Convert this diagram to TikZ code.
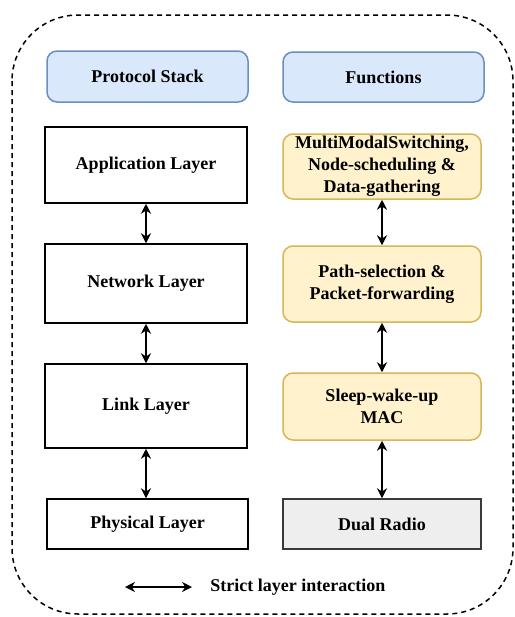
\documentclass[tikz,border=0pt]{standalone}
\usepackage{fontspec}
\setmainfont{Liberation Serif}
\usepackage{tikz}
\usetikzlibrary{arrows.meta}

\definecolor{headfill}{HTML}{DAE8FC}
\definecolor{headdraw}{HTML}{6C8EBF}
\definecolor{funcfill}{HTML}{FFF2CC}
\definecolor{funcdraw}{HTML}{D6B656}
\definecolor{radiofill}{HTML}{EEEEEE}
\definecolor{radiodraw}{HTML}{36393D}

\tikzset{
  box/.style={draw, line width=0.75pt, align=center, inner sep=0pt,
    font=\fontsize{9}{11}\selectfont\bfseries},
  head/.style={box, draw=headdraw, fill=headfill, rounded corners=5pt},
  layer/.style={box, fill=white},
  func/.style={box, draw=funcdraw, fill=funcfill, rounded corners=5pt},
  radio/.style={box, draw=radiodraw, fill=radiofill},
  link/.style={line width=1pt, {Stealth[length=5pt,width=5pt]}-{Stealth[length=5pt,width=5pt]}}
}

\begin{document}
\begin{tikzpicture}[x=0.5pt,y=-0.5pt]
		\useasboundingbox (0,0) rectangle (515,617);
		\draw[line width=0.75pt,dash pattern=on 2.5pt off 2pt,rounded corners=33pt] (12,15) rectangle (513,614);
		% headers
		\node[head, minimum width=100.5pt, minimum height=25.5pt] (stack) at (147.5,76.5) {Protocol Stack};
		\node[head, minimum width=100.5pt, minimum height=25pt] (funcs) at (383.5,77) {Functions};
		% protocol stack
		\node[layer, minimum width=101pt, minimum height=38pt] (app) at (146,165) {Application Layer};
		\node[layer, minimum width=101pt, minimum height=39.5pt] (net) at (146,283.5) {Network Layer};
		\node[layer, minimum width=101pt, minimum height=42pt] (lnk) at (146,406) {Link Layer};
		\node[layer, minimum width=100.5pt, minimum height=25pt] (phy) at (147.5,524) {Physical Layer};
		% functions
		\node[func, minimum width=99pt, minimum height=32.5pt] (mms) at (382,166.5) {MultiModalSwitching,\\Node-scheduling \&\\Data-gathering};
		\node[func, minimum width=99pt, minimum height=38pt] (path) at (382,284) {Path-selection \&\\Packet-forwarding};
		\node[func, minimum width=99pt, minimum height=33.5pt] (sleep) at (382,406.5) {Sleep-wake-up\\MAC};
		\node[radio, minimum width=99pt, minimum height=25pt] (dual) at (382,524) {Dual Radio};
		% arrows
		\draw[link] (app) -- (net);
		\draw[link] (net) -- (lnk);
		\draw[link] (lnk.south) -- (lnk.south |- phy.north);
		\draw[link] (mms) -- (path);
		\draw[link] (path) -- (sleep);
		\draw[link] (sleep) -- (dual);
		% legend
		\coordinate (legA) at (125,587);
		\coordinate (legB) at (192,587);
		\draw[link] (legA) -- (legB);
		\node[font=\fontsize{9}{11}\selectfont\bfseries, anchor=west, inner sep=0pt] (legtext) at (210,587) {Strict layer interaction};
\end{tikzpicture}
\end{document}
